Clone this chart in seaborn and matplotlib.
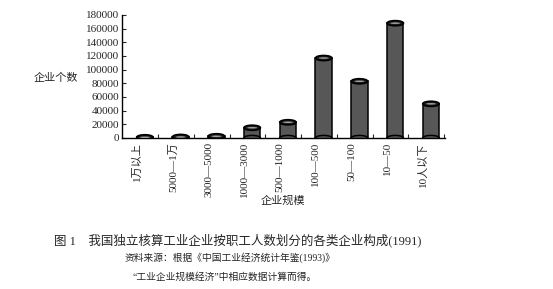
import numpy as np
import pandas as pd
import matplotlib
matplotlib.use("Agg")
import matplotlib.pyplot as plt
import seaborn as sns
from matplotlib.patches import Ellipse

categories = ["1万以上", "5000—1万", "3000—5000", "1000—3000", "500—1000",
              "100—500", "50—100", "10—50", "10人以下"]
values = [1000, 1500, 2500, 15000, 23000, 117000, 83000, 168000, 50000]
yticks = [0, 20000, 40000, 60000, 80000, 100000, 120000, 140000, 160000, 180000]

sns.set_style("ticks")
plt.rcParams["font.family"] = ["Liberation Serif", "Noto Sans CJK SC", "DejaVu Sans"]

fig = plt.figure(figsize=(5.53, 2.89), dpi=100)
ax = fig.add_axes([0.2206, 0.5225, 0.584, 0.4256])

df = pd.DataFrame({"cat": categories, "val": values})
sns.barplot(data=df, x="cat", y="val", ax=ax, color="#575757", saturation=1,
            width=0.46, edgecolor="black", linewidth=1.1)

cap_h = 7500
for p in ax.patches[:len(values)]:
    xc = p.get_x() + p.get_width() / 2
    w = p.get_width()
    top = p.get_height()
    ax.add_patch(Ellipse((xc, 0), w, cap_h, facecolor="#575757",
                         edgecolor="black", lw=1.1, zorder=2))
    ax.add_patch(Ellipse((xc, top), w, cap_h, facecolor="#1e1e1e",
                         edgecolor="black", lw=1.2, zorder=3))
    ax.add_patch(Ellipse((xc, top), w * 0.6, cap_h * 0.3, facecolor="#a0a0a0",
                         edgecolor="none", zorder=4))

n = len(categories)
ax.set_xlim(-0.64, n - 1 + 0.39)
ax.set_ylim(0, 180000)
ax.set_yticks(yticks)
ax.set_yticklabels([str(v) for v in yticks], fontsize=8)
ax.tick_params(axis="y", direction="in", length=3, width=0.8, pad=2)

ax.set_xticks(np.arange(n) - 0.22)
ax.set_xticklabels(categories, rotation=90, fontsize=8, va="top", ha="center")
ax.tick_params(axis="x", which="major", length=0, pad=3)
ax.set_xticks(np.arange(n) + 0.37, minor=True)
ax.tick_params(axis="x", which="minor", direction="in", length=3, width=0.8)

sns.despine(ax=ax)
for s in ["left", "bottom"]:
    ax.spines[s].set_linewidth(1.0)
    ax.spines[s].set_color("black")

ax.set_ylabel("")
ax.set_xlabel("")
fig.text(56 / 553, 1 - 78 / 289, "企业个数", fontsize=8, ha="center", va="center")
fig.text(283 / 553, 1 - 201 / 289, "企业规模", fontsize=8, ha="center", va="center")

fig.text(238 / 553, 1 - 240 / 289, "图 1    我国独立核算工业企业按职工人数划分的各类企业构成(1991)",
         fontsize=9, ha="center", va="center", fontweight="medium")
fig.text(230 / 553, 1 - 258 / 289, "资料来源：根据《中国工业经济统计年鉴(1993)》",
         fontsize=7, ha="center", va="center")
fig.text(225 / 553, 1 - 277 / 289, "“工业企业规模经济”中相应数据计算而得。",
         fontsize=7, ha="center", va="center")

fig.savefig("out.png", dpi=100, facecolor="white")
